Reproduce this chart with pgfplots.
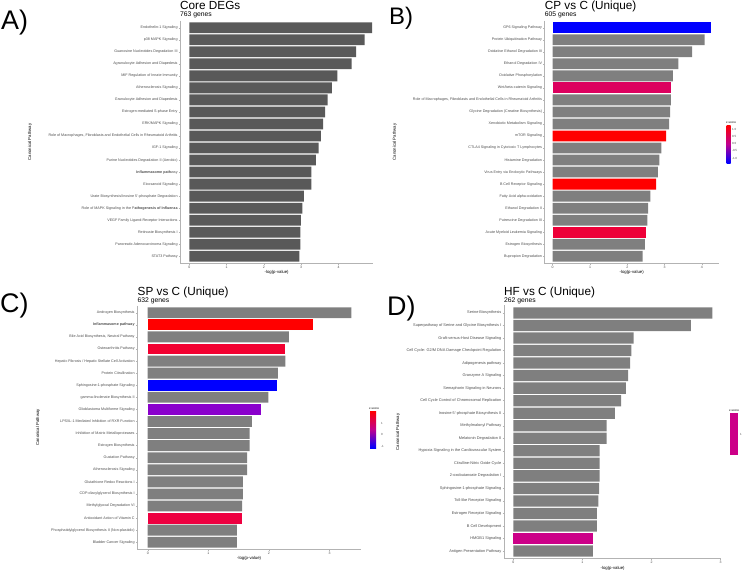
\documentclass[border=0pt]{standalone}
\usepackage{pgfplots}
\pgfplotsset{compat=1.18}
\usepackage{fontspec}
\setmainfont{Liberation Sans}
\definecolor{barA}{HTML}{595959}
\definecolor{barG}{HTML}{7F7F7F}
\definecolor{axgray}{HTML}{B3B3B3}
\definecolor{txtgray}{HTML}{4D4D4D}
\definecolor{zneg}{HTML}{0000FF}
\definecolor{zpos}{HTML}{FF0000}
\definecolor{zmid}{HTML}{C0008F}
\definecolor{cWnt}{HTML}{DC005E}
\definecolor{cAML}{HTML}{EE0038}
\definecolor{cOst}{HTML}{F20030}
\definecolor{cGlio}{HTML}{8A00CC}
\definecolor{cAnti}{HTML}{EE0040}
\definecolor{cHMG}{HTML}{CC0088}
\pgfplotsset{
  panel/.style={
    scale only axis,
    xbar, bar width=0.9, bar shift=0pt,
    y dir=reverse,
    axis x line*=bottom, axis y line*=left,
    axis line style={axgray, line width=0.6bp},
    tick style={axgray, line width=0.4bp},
    tick align=outside,
    major tick length=1.5bp,
    ymin=0.4, ymax=20.6,
    ytick={1,...,20},
    yticklabel style={font=\fontsize{3.7}{4}\selectfont, text=txtgray, inner sep=1bp},
    xticklabel style={font=\fontsize{3.5}{4}\selectfont, text=txtgray, inner sep=1bp},
    /pgf/number format/assume math mode=true,
    xlabel={-log(p-value)},
    ylabel={Canonical Pathway},
    xlabel style={font=\fontsize{4.3}{5}\selectfont, inner sep=1bp},
    every axis plot/.append style={draw=none},
    anchor=north west,
  },
  ylab at/.style={every axis y label/.style={at={(axis description cs:#1,0.5)}, rotate=90, anchor=center, font=\fontsize{4.3}{5}\selectfont, inner sep=1bp}},
}
\begin{document}
\begin{tikzpicture}
\useasboundingbox (0,0) rectangle (746bp,-572bp);
% ---------------- Panel A ----------------
\node[anchor=base west, font=\fontsize{27}{30}\selectfont, inner sep=0] at (1bp,-29.3bp) {A)};
\node[anchor=base west, font=\fontsize{11.8}{13}\selectfont, inner sep=0] at (180bp,-9.5bp) {Core DEGs};
\node[anchor=base west, font=\fontsize{6.8}{8}\selectfont, inner sep=0] at (180bp,-16.8bp) {763 genes};
\begin{axis}[panel, ylab at=-0.78, at={(180.3bp,-20.5bp)}, width=192.7bp, height=243bp,
  xmin=-0.242, xmax=4.925, xtick={0,1,2,3,4},
  yticklabels={Endothelin-1 Signaling, p38 MAPK Signaling, Guanosine Nucleotides Degradation III, Agranulocyte Adhesion and Diapedesis, MIF Regulation of Innate Immunity, Atherosclerosis Signaling, Granulocyte Adhesion and Diapedesis, Estrogen-mediated S-phase Entry, ERK/MAPK Signaling, {Role of Macrophages, Fibroblasts and Endothelial Cells in Rheumatoid Arthritis}, IGF-1 Signaling, Purine Nucleotides Degradation II (Aerobic), {\textbf{Inflammasome path}way}, Eicosanoid Signaling, Urate Biosynthesis/Inosine 5'-phosphate Degradation, {Role of MAPK Signaling in the P\textbf{athogenesis of Influenza}}, VEGF Family Ligand-Receptor Interactions, Retinoate Biosynthesis I, Pancreatic Adenocarcinoma Signaling, STAT3 Pathway}]
\addplot[fill=barA] coordinates {(4.90,1) (4.70,2) (4.47,3) (4.35,4) (3.97,5) (3.82,6) (3.71,7) (3.64,8) (3.59,9) (3.53,10) (3.47,11) (3.39,12) (3.27,13) (3.27,14) (3.07,15) (3.03,16) (2.99,17) (2.98,18) (2.98,19) (2.95,20)};
\end{axis}
% ---------------- Panel B ----------------
\node[anchor=base west, font=\fontsize{24}{27}\selectfont, inner sep=0] at (389bp,-24.5bp) {B)};
\node[anchor=base west, font=\fontsize{11.8}{13}\selectfont, inner sep=0] at (544.7bp,-9.5bp) {CP vs C (Unique)};
\node[anchor=base west, font=\fontsize{6.8}{8}\selectfont, inner sep=0] at (544.7bp,-16.8bp) {605 genes};
\begin{axis}[panel, ylab at=-0.862, at={(544.7bp,-20.5bp)}, width=174bp, height=243bp,
  xmin=-0.214, xmax=4.45, xtick={0,1,2,3,4},
  yticklabels={GP6 Signaling Pathway, Protein Ubiquitination Pathway, Oxidative Ethanol Degradation III, Ethanol Degradation IV, Oxidative Phosphorylation, Wnt/beta-catenin Signaling, {Role of Macrophages, Fibroblasts and Endothelial Cells in Rheumatoid Arthritis}, Glycine Degradation (Creatine Biosynthesis), Xenobiotic Metabolism Signaling, mTOR Signaling, CTLA4 Signaling in Cytotoxic T Lymphocytes, Histamine Degradation, Virus Entry via Endocytic Pathways, B Cell Receptor Signaling, Fatty Acid alpha-oxidation, Ethanol Degradation II, Putrescine Degradation III, Acute Myeloid Leukemia Signaling, Estrogen Biosynthesis, Bupropion Degradation}]
\addplot[fill=barG] coordinates {(4.07,2) (3.74,3) (3.37,4) (3.22,5) (3.17,7) (3.15,8) (3.12,9) (2.91,11) (2.86,12) (2.82,13) (2.62,15) (2.56,16) (2.54,17) (2.47,19) (2.41,20)};
\addplot[fill=zneg] coordinates {(4.25,1)};
\addplot[fill=cWnt] coordinates {(3.18,6)};
\addplot[fill=zpos] coordinates {(3.04,10) (2.77,14)};
\addplot[fill=cAML] coordinates {(2.50,18)};
\end{axis}
\node[anchor=base west, font=\fontsize{3}{3.5}\selectfont, inner sep=0] at (726bp,-123bp) {z-score};
\shade[top color=zpos, bottom color=zneg, middle color=zmid] (726.7bp,-125bp) rectangle (730.7bp,-163bp);
\foreach \v/\y in {1.0/129, 0.5/136.3, 0.0/143.6, -0.5/150.9, -1.0/158.2}
  \node[anchor=west, font=\fontsize{3}{3.5}\selectfont, text=txtgray, inner sep=0] at (731.8bp,-\y bp) {\v};
% ---------------- Panel C ----------------
\node[anchor=base west, font=\fontsize{27}{30}\selectfont, inner sep=0] at (0bp,-312.3bp) {C)};
\node[anchor=base west, font=\fontsize{11.8}{13}\selectfont, inner sep=0] at (137.5bp,-295bp) {SP vs C (Unique)};
\node[anchor=base west, font=\fontsize{6.8}{8}\selectfont, inner sep=0] at (137.5bp,-302.3bp) {632 genes};
\begin{axis}[panel, ylab at=-0.444, at={(137.3bp,-305.5bp)}, width=223.7bp, height=244bp,
  xmin=-0.172, xmax=3.52, xtick={0,1,2,3},
  yticklabels={Androgen Biosynthesis, {\textbf{Inflammasome pathway}}, {Bile Acid Biosynthesis, Neutral Pathway}, Osteoarthritis Pathway, Hepatic Fibrosis / Hepatic Stellate Cell Activation, Protein Citrullination, Sphingosine-1-phosphate Signaling, gamma-linolenate Biosynthesis II, Glioblastoma Multiforme Signaling, LPS/IL-1 Mediated Inhibition of RXR Function, Inhibition of Matrix Metalloproteases, Estrogen Biosynthesis, Gustation Pathway, Atherosclerosis Signaling, Glutathione Redox Reactions I, CDP-diacylglycerol Biosynthesis I, Methylglyoxal Degradation VI, Antioxidant Action of Vitamin C, Phosphatidylglycerol Biosynthesis II (Non-plastidic), Bladder Cancer Signaling}]
\addplot[fill=barG] coordinates {(3.36,1) (2.33,3) (2.27,5) (2.15,6) (1.99,8) (1.72,10) (1.68,11) (1.68,12) (1.64,13) (1.64,14) (1.57,15) (1.57,16) (1.56,17) (1.47,19) (1.47,20)};
\addplot[fill=zpos] coordinates {(2.73,2)};
\addplot[fill=cOst] coordinates {(2.27,4)};
\addplot[fill=zneg] coordinates {(2.14,7)};
\addplot[fill=cGlio] coordinates {(1.87,9)};
\addplot[fill=cAnti] coordinates {(1.55,18)};
\end{axis}
\node[anchor=base west, font=\fontsize{3}{3.5}\selectfont, inner sep=0] at (369bp,-409bp) {z-score};
\shade[top color=zpos, bottom color=zneg, middle color=zmid] (370bp,-411bp) rectangle (376bp,-448bp);
\foreach \v/\y in {1/423, 0/434.5, -1/446}
  \node[anchor=west, font=\fontsize{3}{3.5}\selectfont, text=txtgray, inner sep=0] at (381bp,-\y bp) {\v};
% ---------------- Panel D ----------------
\node[anchor=base west, font=\fontsize{27}{30}\selectfont, inner sep=0] at (387bp,-315.7bp) {D)};
\node[anchor=base west, font=\fontsize{11.8}{13}\selectfont, inner sep=0] at (504bp,-295bp) {HF vs C (Unique)};
\node[anchor=base west, font=\fontsize{6.8}{8}\selectfont, inner sep=0] at (504bp,-302.3bp) {262 genes};
\begin{axis}[panel, ylab at=-0.488, at={(504bp,-305.4bp)}, width=217.3bp, height=253.2bp,
  xmin=-0.135, xmax=3.01, xtick={0,1,2,3},
  yticklabel style={font=\fontsize{3.9}{4.2}\selectfont},
  yticklabels={Serine Biosynthesis, Superpathway of Serine and Glycine Biosynthesis I, Graft-versus-Host Disease Signaling, {Cell Cycle: G2/M DNA Damage Checkpoint Regulation}, Adipogenesis pathway, Granzyme A Signaling, Semaphorin Signaling in Neurons, Cell Cycle Control of Chromosomal Replication, Inosine-5'-phosphate Biosynthesis II, Methylmalonyl Pathway, Melatonin Degradation II, Hypoxia Signaling in the Cardiovascular System, Citrulline-Nitric Oxide Cycle, 2-oxobutanoate Degradation I, Sphingosine-1-phosphate Signaling, Toll-like Receptor Signaling, Estrogen Receptor Signaling, B Cell Development, HMGB1 Signaling, Antigen Presentation Pathway}]
\addplot[fill=barG] coordinates {(2.88,1) (2.57,2) (1.74,3) (1.71,4) (1.69,5) (1.66,6) (1.63,7) (1.56,8) (1.47,9) (1.35,10) (1.35,11) (1.25,12) (1.25,13) (1.25,14) (1.24,15) (1.23,16) (1.21,17) (1.21,18) (1.15,20)};
\addplot[fill=cHMG] coordinates {(1.16,19)};
\end{axis}
\node[anchor=base west, font=\fontsize{3}{3.5}\selectfont, inner sep=0] at (729bp,-411bp) {z-score};
\fill[cHMG] (730bp,-412.7bp) rectangle (737.7bp,-455bp);
\node[anchor=west, font=\fontsize{3}{3.5}\selectfont, text=txtgray, inner sep=0] at (740bp,-434bp) {1};
\end{tikzpicture}
\end{document}
